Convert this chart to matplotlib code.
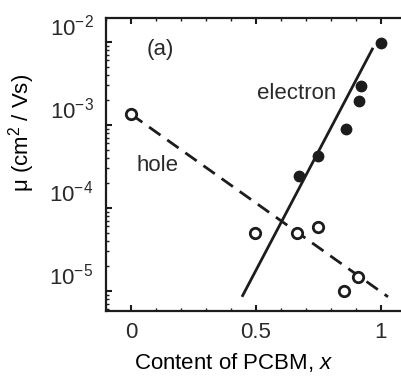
import numpy as np
import matplotlib
matplotlib.use("Agg")
from matplotlib import pyplot as plt
from matplotlib.ticker import MultipleLocator, LogLocator, NullFormatter
from matplotlib.transforms import ScaledTranslation

# electron mobility (filled circles)
x_electron = [0.672, 0.748, 0.86, 0.912, 0.92, 1.0]
mu_electron = [10**-3.61, 10**-3.37, 10**-3.05, 10**-2.71, 10**-2.53, 10**-2.012]

# hole mobility (open circles)
x_hole = [0.0, 0.496, 0.664, 0.748, 0.852, 0.908]
mu_hole = [10**-2.87, 10**-4.30, 10**-4.30, 10**-4.23, 10**-5.0, 10**-4.83]

# fitted trend lines
fit_x_electron = [0.444, 0.968]
fit_mu_electron = [10**-5.07, 10**-2.07]
fit_x_hole = [0.0, 1.028]
fit_mu_hole = [10**-2.87, 10**-5.07]

ink = "#1c1c1c"
plt.rcParams["font.family"] = ["Liberation Sans", "DejaVu Sans"]
plt.rcParams["mathtext.fontset"] = "custom"
plt.rcParams["mathtext.rm"] = "Liberation Sans"
plt.rcParams["mathtext.it"] = "Liberation Sans:italic"
plt.rcParams["text.color"] = "#2a2a2a"

fig = plt.figure(figsize=(4.01, 3.78), dpi=100)
ax = fig.add_axes([106/401, 1 - 311/378, 1 - 106/401, (311 - 18)/378])

ax.plot(fit_x_electron, fit_mu_electron, color=ink, lw=2.0, solid_capstyle="butt")
ax.plot(fit_x_hole, fit_mu_hole, color=ink, lw=2.0, dashes=(5, 3))
ax.plot(x_electron, mu_electron, "o", color=ink, ms=8.5, mew=0)
ax.plot(x_hole, mu_hole, "o", mfc="white", mec=ink, ms=7.5, mew=2.0)

ax.set_yscale("log")
ax.set_xlim(-0.1, 1.08)
ax.set_ylim(10**(-5 - 20/83), 10**(-2 + 24/83))

ax.xaxis.set_minor_locator(MultipleLocator(0.1))
ax.set_xticks([0, 0.5, 1])
ax.set_xticklabels(["0", "0.5", "1"])
ax.yaxis.set_major_locator(LogLocator(base=10))
ax.yaxis.set_minor_locator(LogLocator(base=10, subs=np.arange(2, 10)))
ax.yaxis.set_minor_formatter(NullFormatter())

ax.tick_params(which="both", direction="in", top=True, right=False,
               color=ink, labelsize=16, labelcolor="#2a2a2a")
ax.tick_params(which="major", length=4, width=1.5)
ax.tick_params(which="minor", length=2, width=1)
ax.tick_params(axis="x", pad=8)
ax.tick_params(axis="y", pad=9)

for s in ["left", "bottom", "top"]:
    ax.spines[s].set_linewidth(1.6)
    ax.spines[s].set_color(ink)
ax.spines["right"].set_visible(False)

# the tick labels sit a little above their ticks in the original
shift = ScaledTranslation(0, 17/100, fig.dpi_scale_trans)
for lab in ax.get_yticklabels():
    lab.set_transform(lab.get_transform() + shift)

ax.set_xlabel("Content of PCBM, $\\mathit{x}$", fontsize=16)
ax.xaxis.label.set_va("center")
ax.xaxis.set_label_coords(0.434, -0.177)
ax.set_ylabel("μ (cm$^2$ / Vs)", fontsize=16)
ax.yaxis.label.set_va("center")
ax.yaxis.set_label_coords(-0.285, 0.608)

ax.text(0.183, 0.891, "(a)", transform=ax.transAxes, fontsize=16, ha="center", va="center")
ax.text(0.647, 0.744, "electron", transform=ax.transAxes, fontsize=16, ha="center", va="center")
ax.text(0.176, 0.498, "hole", transform=ax.transAxes, fontsize=16, ha="center", va="center")

fig.savefig("out.png", dpi=100)
